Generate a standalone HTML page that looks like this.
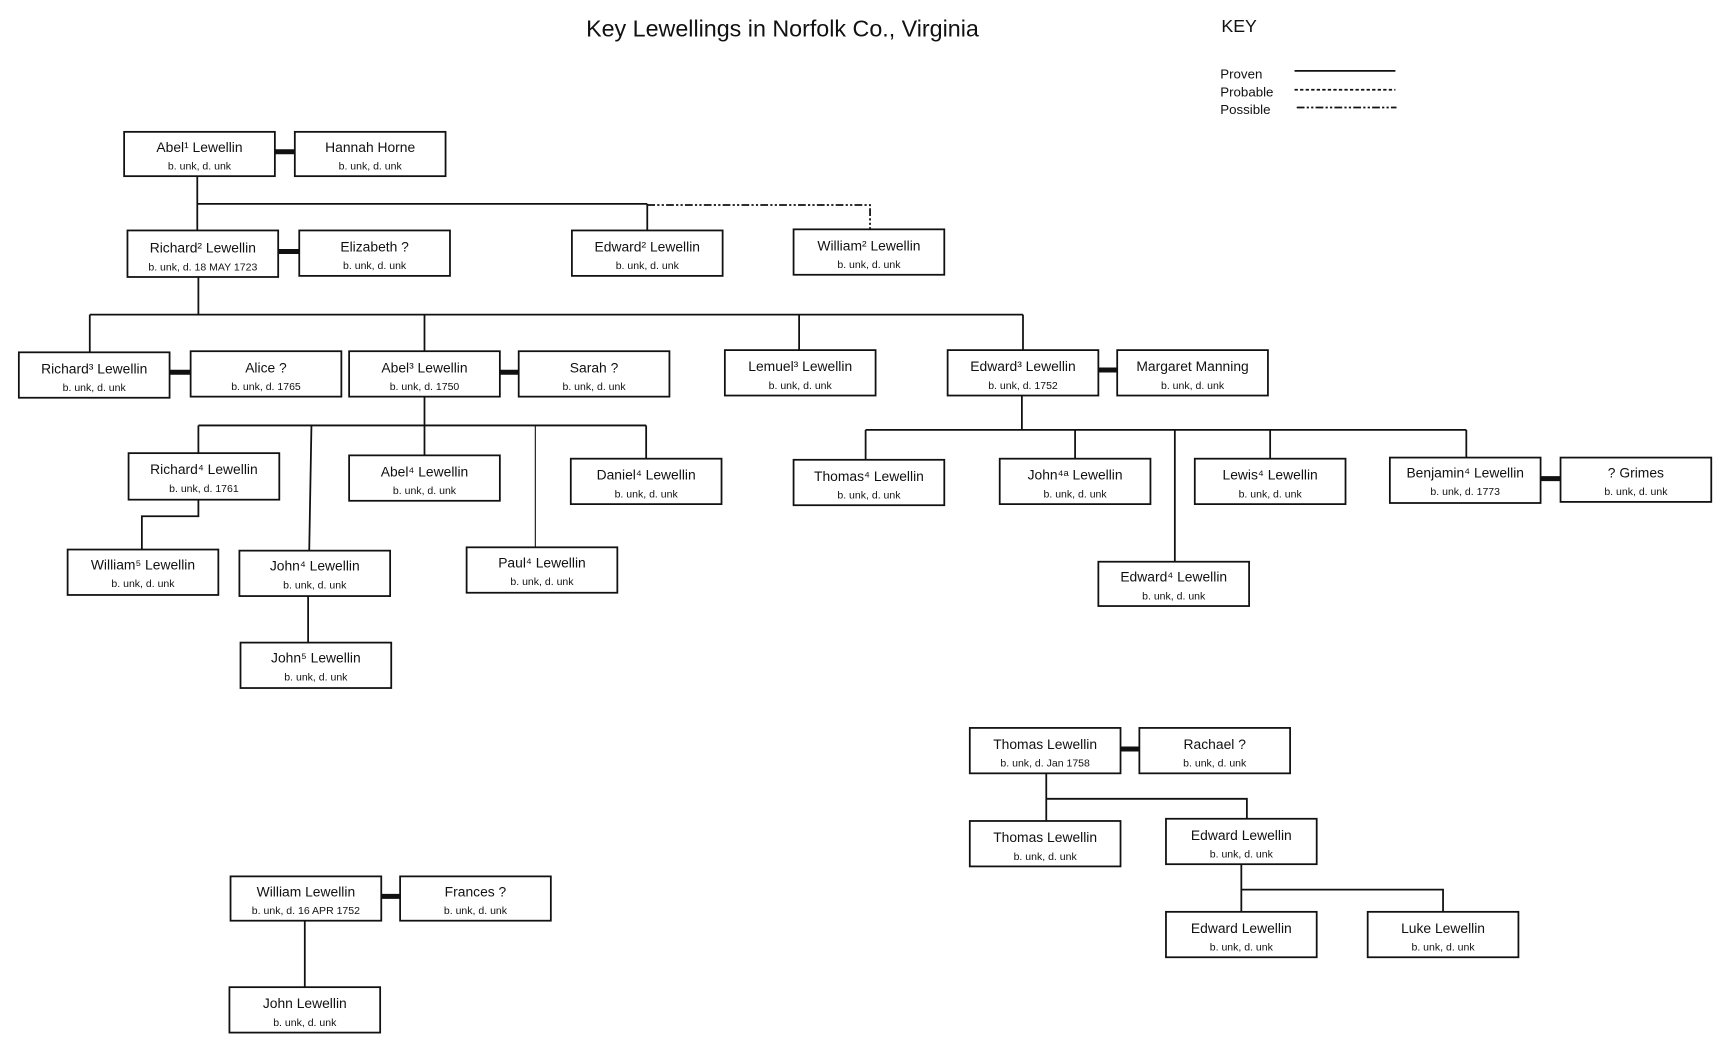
<!DOCTYPE html>
<html><head><meta charset="utf-8"><style>
html,body{margin:0;padding:0;background:#fff;}
svg{display:block;}
text{font-family:"Liberation Sans",sans-serif;fill:#111;}
.n{font-size:12.5px;text-anchor:middle;}
.d{font-size:9.5px;text-anchor:middle;}
rect{fill:#fff;stroke:#111;stroke-width:1.6;}
line,polyline{stroke:#111;stroke-width:1.6;fill:none;}
.m{stroke-width:4.5;}
</style></head><body>
<svg width="1729" height="1047" viewBox="0 0 1560 945" preserveAspectRatio="none" xmlns="http://www.w3.org/2000/svg">
<text x="706" y="33" style="font-size:21px;text-anchor:middle">Key Lewellings in Norfolk Co.,  Virginia</text>
<text x="1102" y="29" style="font-size:16px">KEY</text>
<text x="1101" y="71" style="font-size:12px">Proven</text>
<text x="1101" y="87" style="font-size:12px">Probable</text>
<text x="1101" y="103" style="font-size:12px">Possible</text>
<line x1="1168" y1="64" x2="1259" y2="64"/>
<line x1="1168" y1="81" x2="1259" y2="81" stroke-dasharray="3,2"/>
<line x1="1170" y1="97" x2="1260" y2="97" stroke-dasharray="7,2,2,2,2,2"/>

<!-- connectors -->
<polyline points="178,159 178,208"/>
<line x1="178" y1="184" x2="584" y2="184"/>
<line x1="584" y1="184" x2="584" y2="208"/>
<polyline points="584,185 785,185 785,207" stroke-dasharray="7,2,2,2,2,2"/>
<line x1="179" y1="250" x2="179" y2="284"/>
<line x1="81" y1="284" x2="923" y2="284"/>
<line x1="81" y1="284" x2="81" y2="318"/>
<line x1="383" y1="284" x2="383" y2="317"/>
<line x1="721" y1="284" x2="721" y2="316"/>
<line x1="923" y1="284" x2="923" y2="316"/>
<line x1="383" y1="358" x2="383" y2="411"/>
<line x1="179" y1="384" x2="583" y2="384"/>
<line x1="179" y1="384" x2="179" y2="409"/>
<line x1="281" y1="384" x2="279" y2="497"/>
<line x1="483" y1="384" x2="483" y2="494" style="stroke-width:1"/>
<line x1="583" y1="384" x2="583" y2="414"/>
<polyline points="179,451 179,466 128,466 128,496"/>
<line x1="278" y1="538" x2="278" y2="580"/>
<line x1="922" y1="357" x2="922" y2="388"/>
<line x1="781" y1="388" x2="1323" y2="388"/>
<line x1="781" y1="388" x2="781" y2="415"/>
<line x1="970" y1="388" x2="970" y2="414"/>
<line x1="1060" y1="388" x2="1060" y2="507"/>
<line x1="1146" y1="388" x2="1146" y2="414"/>
<line x1="1323" y1="388" x2="1323" y2="413"/>
<line x1="944" y1="698" x2="944" y2="741"/>
<polyline points="944,721 1125,721 1125,739"/>
<line x1="1120" y1="780" x2="1120" y2="823"/>
<polyline points="1120,803 1302,803 1302,823"/>
<line x1="275" y1="831" x2="275" y2="891"/>
<!-- marriage -->
<line class="m" x1="248" y1="137" x2="266" y2="137"/>
<line class="m" x1="251" y1="227" x2="270" y2="227"/>
<line class="m" x1="153" y1="336" x2="172" y2="336"/>
<line class="m" x1="451" y1="336" x2="468" y2="336"/>
<line class="m" x1="991" y1="334" x2="1008" y2="334"/>
<line class="m" x1="1390" y1="432" x2="1408" y2="432"/>
<line class="m" x1="1011" y1="676" x2="1028" y2="676"/>
<line class="m" x1="344" y1="809" x2="361" y2="809"/>

<!-- boxes -->
<g>
<rect x="112" y="119" width="136" height="40"/><text class="n" x="180" y="137">Abel¹ Lewellin</text><text class="d" x="180" y="153">b. unk, d.  unk</text>
<rect x="266" y="119" width="136" height="40"/><text class="n" x="334" y="137">Hannah Horne</text><text class="d" x="334" y="153">b. unk, d.  unk</text>
<rect x="115" y="208" width="136" height="42"/><text class="n" x="183" y="228">Richard² Lewellin</text><text class="d" x="183" y="244">b. unk, d. 18 MAY 1723</text>
<rect x="270" y="208" width="136" height="41"/><text class="n" x="338" y="227">Elizabeth ?</text><text class="d" x="338" y="243">b. unk, d.  unk</text>
<rect x="516" y="208" width="136" height="41"/><text class="n" x="584" y="227">Edward² Lewellin</text><text class="d" x="584" y="243">b. unk, d.  unk</text>
<rect x="716" y="207" width="136" height="41"/><text class="n" x="784" y="226">William² Lewellin</text><text class="d" x="784" y="242">b. unk, d.  unk</text>

<rect x="17" y="318" width="136" height="41"/><text class="n" x="85" y="337">Richard³ Lewellin</text><text class="d" x="85" y="353">b. unk, d.  unk</text>
<rect x="172" y="317" width="136" height="41"/><text class="n" x="240" y="336">Alice ?</text><text class="d" x="240" y="352">b. unk, d.  1765</text>
<rect x="315" y="317" width="136" height="41"/><text class="n" x="383" y="336">Abel³ Lewellin</text><text class="d" x="383" y="352">b. unk, d.  1750</text>
<rect x="468" y="317" width="136" height="41"/><text class="n" x="536" y="336">Sarah ?</text><text class="d" x="536" y="352">b. unk, d.  unk</text>
<rect x="654" y="316" width="136" height="41"/><text class="n" x="722" y="335">Lemuel³ Lewellin</text><text class="d" x="722" y="351">b. unk, d.  unk</text>
<rect x="855" y="316" width="136" height="41"/><text class="n" x="923" y="335">Edward³ Lewellin</text><text class="d" x="923" y="351">b. unk, d.  1752</text>
<rect x="1008" y="316" width="136" height="41"/><text class="n" x="1076" y="335">Margaret Manning</text><text class="d" x="1076" y="351">b. unk, d.  unk</text>

<rect x="116" y="409" width="136" height="42"/><text class="n" x="184" y="428">Richard⁴ Lewellin</text><text class="d" x="184" y="444">b. unk, d.  1761</text>
<rect x="315" y="411" width="136" height="41"/><text class="n" x="383" y="430">Abel⁴ Lewellin</text><text class="d" x="383" y="446">b. unk, d.  unk</text>
<rect x="515" y="414" width="136" height="41"/><text class="n" x="583" y="433">Daniel⁴ Lewellin</text><text class="d" x="583" y="449">b. unk, d.  unk</text>
<rect x="716" y="415" width="136" height="41"/><text class="n" x="784" y="434">Thomas⁴ Lewellin</text><text class="d" x="784" y="450">b. unk, d.  unk</text>
<rect x="902" y="414" width="136" height="41"/><text class="n" x="970" y="433">John⁴ᵃ Lewellin</text><text class="d" x="970" y="449">b. unk, d.  unk</text>
<rect x="1078" y="414" width="136" height="41"/><text class="n" x="1146" y="433">Lewis⁴ Lewellin</text><text class="d" x="1146" y="449">b. unk, d.  unk</text>
<rect x="1254" y="413" width="136" height="41"/><text class="n" x="1322" y="431">Benjamin⁴ Lewellin</text><text class="d" x="1322" y="447">b. unk, d.  1773</text>
<rect x="1408" y="413" width="136" height="40"/><text class="n" x="1476" y="431">? Grimes</text><text class="d" x="1476" y="447">b. unk, d.  unk</text>

<rect x="61" y="496" width="136" height="41"/><text class="n" x="129" y="514">William⁵ Lewellin</text><text class="d" x="129" y="530">b. unk, d.  unk</text>
<rect x="216" y="497" width="136" height="41"/><text class="n" x="284" y="515">John⁴ Lewellin</text><text class="d" x="284" y="531">b. unk, d.  unk</text>
<rect x="421" y="494" width="136" height="41"/><text class="n" x="489" y="512">Paul⁴ Lewellin</text><text class="d" x="489" y="528">b. unk, d.  unk</text>
<rect x="991" y="507" width="136" height="40"/><text class="n" x="1059" y="525">Edward⁴ Lewellin</text><text class="d" x="1059" y="541">b. unk, d.  unk</text>
<rect x="217" y="580" width="136" height="41"/><text class="n" x="285" y="598">John⁵ Lewellin</text><text class="d" x="285" y="614">b. unk, d.  unk</text>

<rect x="875" y="657" width="136" height="41"/><text class="n" x="943" y="676">Thomas Lewellin</text><text class="d" x="943" y="692">b. unk, d.  Jan 1758</text>
<rect x="1028" y="657" width="136" height="41"/><text class="n" x="1096" y="676">Rachael ?</text><text class="d" x="1096" y="692">b. unk, d.  unk</text>
<rect x="875" y="741" width="136" height="41"/><text class="n" x="943" y="760">Thomas Lewellin</text><text class="d" x="943" y="776">b. unk, d.  unk</text>
<rect x="1052" y="739" width="136" height="41"/><text class="n" x="1120" y="758">Edward Lewellin</text><text class="d" x="1120" y="774">b. unk, d.  unk</text>
<rect x="1052" y="823" width="136" height="41"/><text class="n" x="1120" y="842">Edward Lewellin</text><text class="d" x="1120" y="858">b. unk, d.  unk</text>
<rect x="1234" y="823" width="136" height="41"/><text class="n" x="1302" y="842">Luke Lewellin</text><text class="d" x="1302" y="858">b. unk, d.  unk</text>

<rect x="208" y="791" width="136" height="40"/><text class="n" x="276" y="809">William Lewellin</text><text class="d" x="276" y="825">b. unk, d.  16 APR 1752</text>
<rect x="361" y="791" width="136" height="40"/><text class="n" x="429" y="809">Frances ?</text><text class="d" x="429" y="825">b. unk, d.  unk</text>
<rect x="207" y="891" width="136" height="41"/><text class="n" x="275" y="910">John Lewellin</text><text class="d" x="275" y="926">b. unk, d.  unk</text>
</g>
</svg>
</body></html>
